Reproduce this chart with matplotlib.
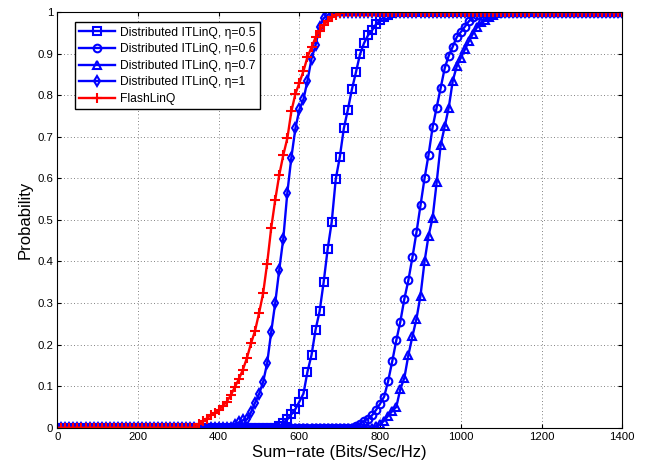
import matplotlib.pyplot as plt
import numpy as np

plt.rcParams['font.family'] = ['Liberation Sans', 'DejaVu Sans']

# Sum-rate bins (Bits/Sec/Hz)
rate = np.arange(0, 1410, 10)

# Rising part of each CDF, starting at the given rate; below it the curve
# sits at 0 and above it at 1
eta05_start = 550
eta05_rise = [0.003, 0.012, 0.02, 0.032, 0.045, 0.063, 0.082, 0.135, 0.175, 0.236,
              0.28, 0.35, 0.43, 0.495, 0.598, 0.651, 0.72, 0.765, 0.814, 0.855,
              0.898, 0.925, 0.944, 0.956, 0.971, 0.98, 0.988, 0.993, 0.997]

eta06_start = 740
eta06_rise = [0.004, 0.01, 0.016, 0.022, 0.03, 0.043, 0.058, 0.075, 0.113, 0.16,
              0.21, 0.255, 0.31, 0.355, 0.41, 0.47, 0.535, 0.6, 0.657, 0.723,
              0.77, 0.817, 0.865, 0.895, 0.917, 0.94, 0.952, 0.965, 0.978, 0.988,
              0.994, 0.998]

eta07_start = 790
eta07_rise = [0.004, 0.008, 0.017, 0.029, 0.04, 0.05, 0.093, 0.12, 0.175, 0.22,
              0.262, 0.318, 0.40, 0.462, 0.505, 0.59, 0.68, 0.725, 0.77, 0.835,
              0.87, 0.89, 0.91, 0.93, 0.948, 0.963, 0.975, 0.981, 0.988, 0.994,
              0.998]

eta1_start = 440
eta1_rise = [0.006, 0.013, 0.018, 0.02, 0.037, 0.06, 0.081, 0.11, 0.155, 0.23,
             0.30, 0.38, 0.455, 0.565, 0.65, 0.72, 0.766, 0.79, 0.835, 0.888,
             0.92, 0.965, 0.985, 0.993, 0.998]

flash_start = 350
flash_rise = [0.008, 0.015, 0.022, 0.030, 0.036, 0.042, 0.052, 0.063, 0.078, 0.098,
              0.117, 0.14, 0.168, 0.203, 0.233, 0.276, 0.323, 0.395, 0.48, 0.548,
              0.608, 0.656, 0.696, 0.761, 0.803, 0.83, 0.858, 0.892, 0.915, 0.939,
              0.955, 0.968, 0.979, 0.987, 0.993, 0.997]


def full_cdf(start, rise):
    i0 = int(np.searchsorted(rate, start))
    n_top = len(rate) - i0 - len(rise)
    return np.concatenate([np.zeros(i0), rise, np.ones(n_top)])


fig = plt.figure(figsize=(6.45, 4.63), dpi=100)
ax = fig.add_axes([0.0888, 0.0762, 0.876, 0.8978])

blue = (0, 0, 1)
red = (1, 0, 0)
common = dict(linewidth=1.7, markersize=5.5, markeredgewidth=1.5,
              markerfacecolor='none')

ax.plot(rate, full_cdf(eta05_start, eta05_rise), '-s', color=blue,
        label='Distributed ITLinQ, η=0.5', **common)
ax.plot(rate, full_cdf(eta06_start, eta06_rise), '-o', color=blue,
        label='Distributed ITLinQ, η=0.6', **common)
ax.plot(rate, full_cdf(eta07_start, eta07_rise), '-^', color=blue,
        label='Distributed ITLinQ, η=0.7', **common)
ax.plot(rate, full_cdf(eta1_start, eta1_rise), '-d', color=blue,
        label='Distributed ITLinQ, η=1', **common)
ax.plot(rate, full_cdf(flash_start, flash_rise), '-+', color=red,
        label='FlashLinQ', linewidth=1.7, markersize=7, markeredgewidth=1.5)

ax.set_xlim(0, 1400)
ax.set_ylim(0, 1)
ax.set_xticks(np.arange(0, 1401, 200))
ax.set_yticks(np.arange(0, 1.01, 0.1))
ax.set_yticklabels(['0', '0.1', '0.2', '0.3', '0.4', '0.5', '0.6', '0.7', '0.8', '0.9', '1'])
ax.tick_params(direction='in', length=3, labelsize=8.2, top=True, right=True, pad=3)
ax.grid(True, linestyle=(0, (1, 3)), color='0.35', linewidth=0.6)
for s in ax.spines.values():
    s.set_linewidth(0.8)

ax.set_xlabel('Sum\u2212rate (Bits/Sec/Hz)', fontsize=12, labelpad=2)
ax.set_ylabel('Probability', fontsize=12, labelpad=3)

leg = ax.legend(loc='upper left', bbox_to_anchor=(0.031, 0.975), borderaxespad=0,
                fontsize=8.7, handlelength=3.0, labelspacing=0.38, handletextpad=0.4,
                borderpad=0.35, fancybox=False, framealpha=1, edgecolor='black')
leg.get_frame().set_linewidth(1.0)

plt.savefig('out.png', dpi=100)
